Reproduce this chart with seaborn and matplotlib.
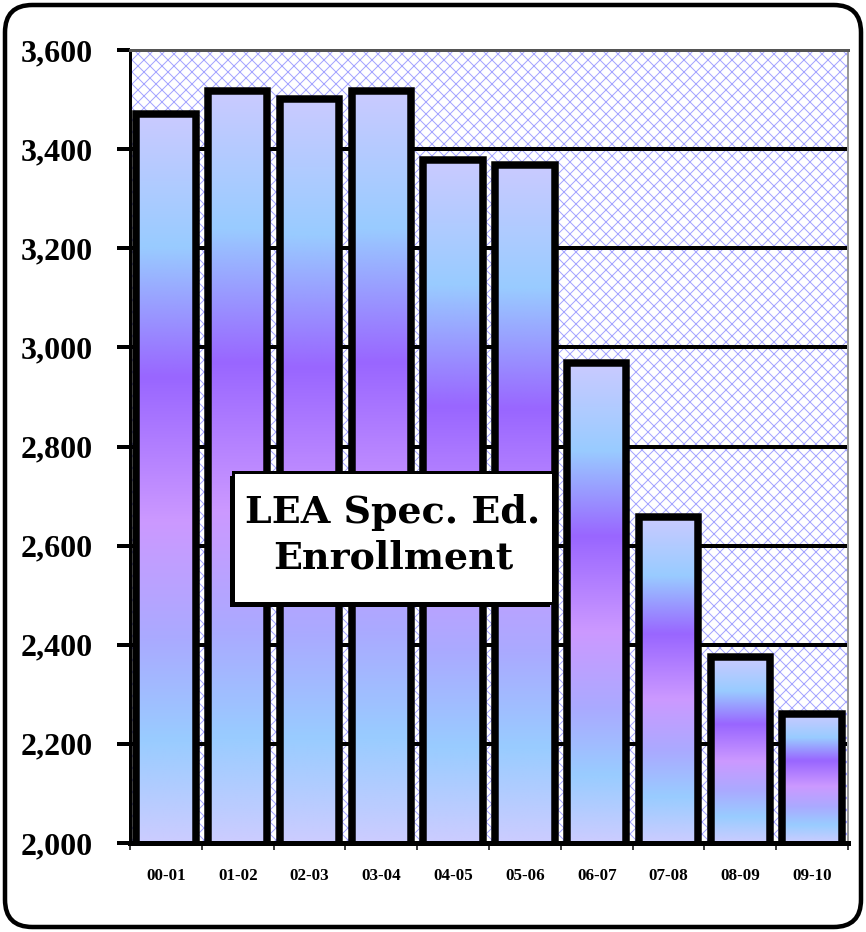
import numpy as np
import pandas as pd
import matplotlib
matplotlib.use("Agg")
import matplotlib.pyplot as plt
import seaborn as sns
from matplotlib.colors import LinearSegmentedColormap
from matplotlib.patches import Rectangle, FancyBboxPatch
from matplotlib.ticker import FuncFormatter, MultipleLocator, FixedLocator

years = ["00-01", "01-02", "02-03", "03-04", "04-05",
         "05-06", "06-07", "07-08", "08-09", "09-10"]
enrollment = [3470, 3517, 3501, 3517, 3378, 3368, 2968, 2658, 2375, 2260]

df = pd.DataFrame({"year": years, "enrollment": enrollment})

# vertical gradient used inside each bar (top -> bottom)
grad_cmap = LinearSegmentedColormap.from_list("bars", [
    (0.00, "#CACAFF"), (0.18, "#99CCFF"), (0.36, "#9966FF"),
    (0.56, "#CC99FF"), (0.72, "#AAAAFF"), (0.86, "#99CCFF"),
    (1.00, "#CCCCFF")])

sns.set_theme(style="white")
plt.rcParams["font.family"] = ["Liberation Serif", "DejaVu Serif"]
plt.rcParams["text.color"] = "black"
plt.rcParams["xtick.color"] = "black"
plt.rcParams["ytick.color"] = "black"
plt.rcParams["hatch.linewidth"] = 1.0

DPI = 72
fig = plt.figure(figsize=(866 / DPI, 932 / DPI), dpi=DPI)
ax = fig.add_axes([130 / 866, 1 - 843 / 932, 718 / 866, 793 / 932])

# hatched plot background
ax.add_patch(Rectangle((0, 0), 1, 1, transform=ax.transAxes, facecolor="white",
                       edgecolor="#A4A4FF", hatch="xx", linewidth=0, zorder=0))

sns.barplot(data=df, x="year", y="enrollment", ax=ax, width=0.83,
            fill=False, edgecolor="black", linewidth=7.5, zorder=4)

grad = np.linspace(0, 1, 256).reshape(-1, 1)
for bar in ax.patches:
    if bar.get_hatch():
        continue
    x0, y0 = bar.get_x(), 2000
    x1, y1 = bar.get_x() + bar.get_width(), bar.get_y() + bar.get_height()
    im = ax.imshow(grad, cmap=grad_cmap, aspect="auto", origin="upper",
                   extent=(x0, x1, y0, y1), zorder=3, interpolation="bilinear")
    im.set_clip_path(bar)
    bar.set_joinstyle("miter")

ax.set_xlim(-0.5, 9.5)
ax.set_ylim(2000, 3600)

# horizontal grid lines behind bars
for v in range(2200, 3600, 200):
    ax.axhline(v, color="black", linewidth=4, zorder=1)

ax.yaxis.set_major_locator(MultipleLocator(200))
ax.yaxis.set_major_formatter(FuncFormatter(lambda v, p: f"{int(v):,}"))
ax.tick_params(axis="y", which="major", direction="out", length=13, width=4,
               color="black", pad=24, labelsize=32, left=True,
               labelcolor="black")
for lab in ax.get_yticklabels():
    lab.set_fontweight("bold")

ax.xaxis.set_minor_locator(FixedLocator(np.arange(-0.5, 10, 1)))
ax.tick_params(axis="x", which="major", length=0, pad=25, labelsize=17,
               labelcolor="black")
ax.tick_params(axis="x", which="minor", direction="out", length=7, width=1.5,
               color="black", bottom=True)
for lab in ax.get_xticklabels():
    lab.set_fontweight("bold")
ax.set_xlabel("")
ax.set_ylabel("")

ax.spines["left"].set_color("black")
ax.spines["left"].set_linewidth(3)
ax.spines["bottom"].set_color("black")
ax.spines["bottom"].set_linewidth(5)
ax.spines["top"].set_visible(True)
ax.spines["top"].set_color("#555555")
ax.spines["top"].set_linewidth(3)
ax.spines["right"].set_visible(True)
ax.spines["right"].set_color("#999999")
ax.spines["right"].set_linewidth(2)
for s in ax.spines.values():
    s.set_zorder(6)

# title box with drop shadow
bx, by, bw, bh = 233 / 866, 1 - 603 / 932, 320 / 866, 131 / 932
fig.patches.append(Rectangle((bx - 3 / 866, by - 4 / 932), bw, bh,
                             transform=fig.transFigure, facecolor="black",
                             edgecolor="black", linewidth=0, zorder=10))
fig.patches.append(Rectangle((bx, by), bw, bh, transform=fig.transFigure,
                             facecolor="white", edgecolor="black",
                             linewidth=3, zorder=11))
fig.text(bx + bw / 2, by + bh / 2 + 2 / 932, "LEA Spec. Ed.\nEnrollment",
         ha="center", va="center", fontsize=38, fontweight="bold",
         family="DejaVu Serif", color="black", linespacing=1.3, zorder=12)

# rounded frame around the whole picture
fig.patches.append(FancyBboxPatch((5 / DPI, 5 / DPI), 856 / DPI, 922 / DPI,
                                  boxstyle="round,pad=0,rounding_size=0.38",
                                  transform=fig.dpi_scale_trans,
                                  facecolor="none", edgecolor="black",
                                  linewidth=4.5, zorder=20))

fig.savefig("out.png", dpi=DPI)
